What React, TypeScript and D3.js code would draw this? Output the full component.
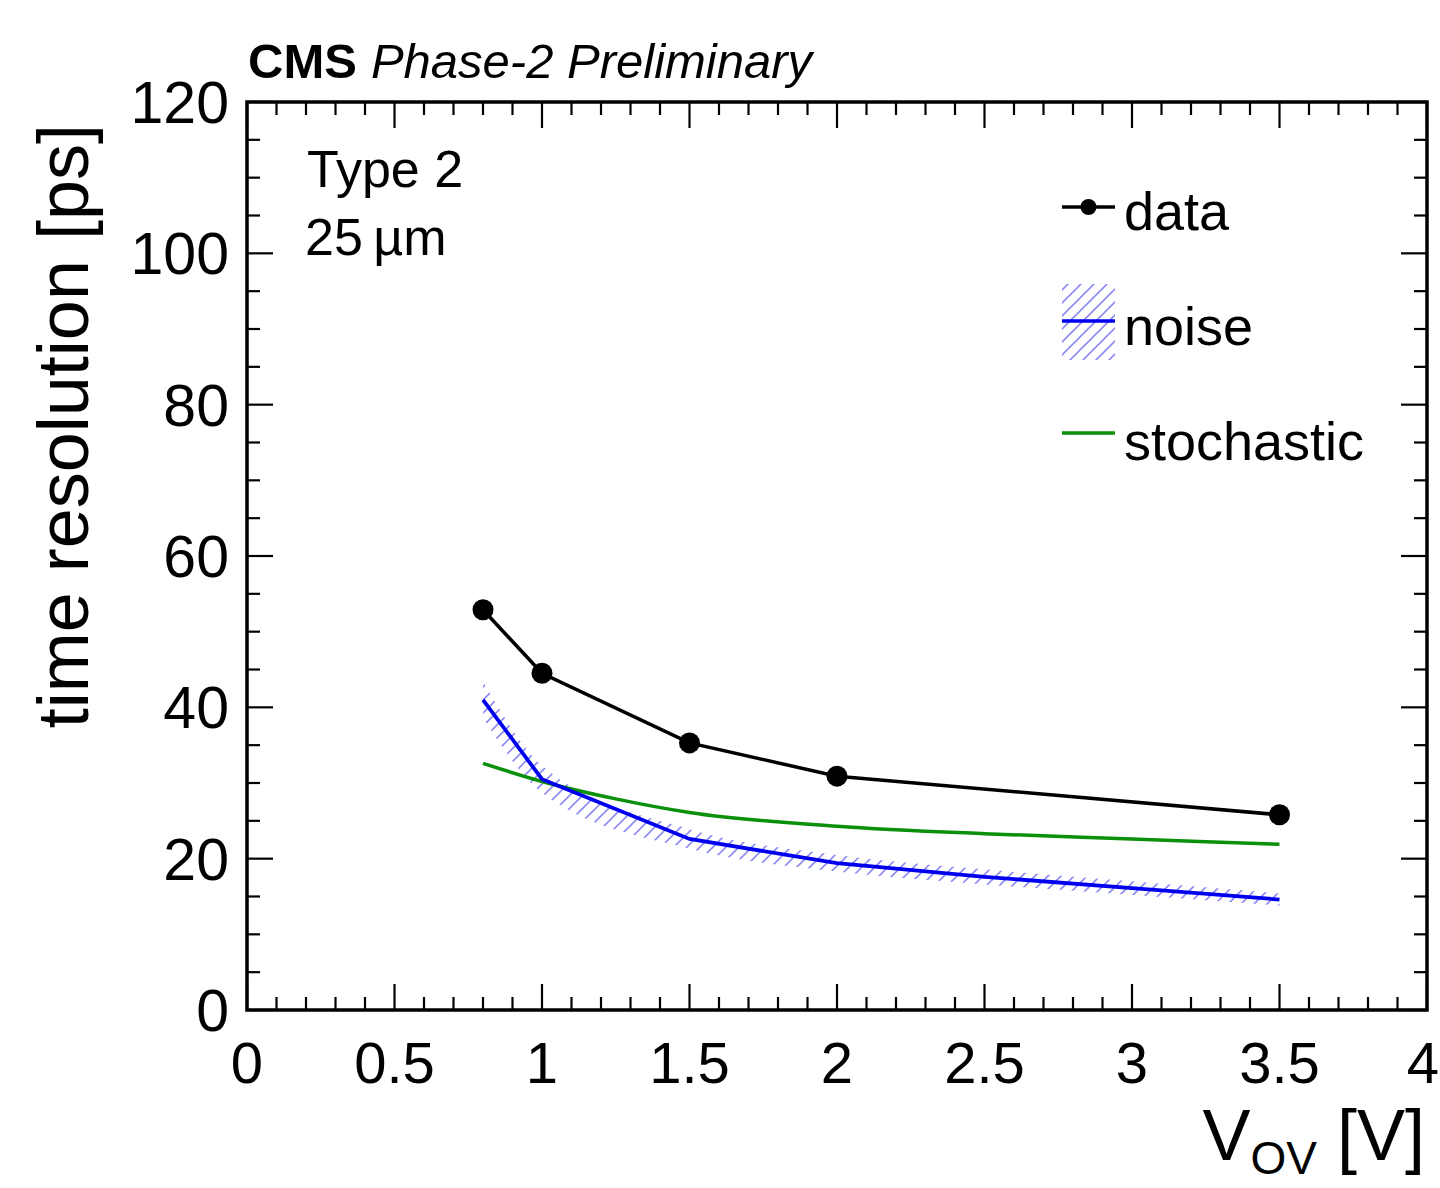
import React, { useEffect, useRef } from 'react';
import * as d3 from 'd3';

// overvoltage points (V) and measured resolution (ps)
const dataV = [0.8, 1.0, 1.5, 2.0, 3.5];
const dataRes = [52.9, 44.5, 35.3, 30.9, 25.8];

// noise term with its uncertainty band
const noiseV = [0.8, 1.0, 1.5, 2.0, 2.5, 3.0, 3.5];
const noiseRes = [41.0, 30.5, 22.6, 19.4, 17.6, 16.1, 14.6];
const noiseErr = [2.4, 1.8, 1.3, 1.1, 1.0, 0.9, 0.8];

// stochastic term
const stochV = [0.8, 1.0, 1.25, 1.5, 2.0, 2.5, 3.0, 3.5];
const stochRes = [32.6, 30.2, 27.9, 26.1, 24.3, 23.3, 22.6, 21.9];

const xTicks = [0, 0.5, 1, 1.5, 2, 2.5, 3, 3.5, 4];
const xTickLabels = ['0', '0.5', '1', '1.5', '2', '2.5', '3', '3.5', '4'];
const yTicks = [0, 20, 40, 60, 80, 100, 120];

const FONT = '"Liberation Sans", Arial, Helvetica, sans-serif';

const W = 1440;
const H = 1188;
const frame = { left: 247, right: 1427, top: 102, bottom: 1010 };

function App() {
  const ref = useRef<SVGSVGElement>(null);

  useEffect(() => {
    const svg = d3.select(ref.current);
    svg.selectAll('*').remove();

    const x = d3.scaleLinear().domain([0, 4]).range([frame.left, frame.right]);
    const y = d3.scaleLinear().domain([0, 120]).range([frame.bottom, frame.top]);

    // hatch pattern for the noise band
    const defs = svg.append('defs');
    const pat = defs.append('pattern')
      .attr('id', 'hatch')
      .attr('patternUnits', 'userSpaceOnUse')
      .attr('width', 13)
      .attr('height', 13);
    pat.append('path')
      .attr('d', 'M-3,3 L3,-3 M0,13 L13,0 M10,16 L16,10')
      .attr('stroke', '#5a5af0')
      .attr('stroke-width', 1.6)
      .attr('opacity', 0.7);

    const plot = svg.append('g');

    // noise band
    const band = noiseV.map((v, i) => ({ v, lo: noiseRes[i] - noiseErr[i], hi: noiseRes[i] + noiseErr[i] }));
    plot.append('path')
      .datum(band)
      .attr('fill', 'url(#hatch)')
      .attr('d', d3.area<any>()
        .x(d => x(d.v))
        .y0(d => y(d.lo))
        .y1(d => y(d.hi))
        .curve(d3.curveMonotoneX));

    const line = d3.line<[number, number]>()
      .x(d => x(d[0]))
      .y(d => y(d[1]));

    // stochastic
    plot.append('path')
      .datum(stochV.map((v, i) => [v, stochRes[i]] as [number, number]))
      .attr('fill', 'none')
      .attr('stroke', '#0b900b')
      .attr('stroke-width', 3.5)
      .attr('d', line.curve(d3.curveMonotoneX));

    // noise
    plot.append('path')
      .datum(noiseV.map((v, i) => [v, noiseRes[i]] as [number, number]))
      .attr('fill', 'none')
      .attr('stroke', '#0000ee')
      .attr('stroke-width', 3.8)
      .attr('d', line.curve(d3.curveLinear));

    // data
    const pts = dataV.map((v, i) => [v, dataRes[i]] as [number, number]);
    plot.append('path')
      .datum(pts)
      .attr('fill', 'none')
      .attr('stroke', '#000')
      .attr('stroke-width', 3.5)
      .attr('d', line.curve(d3.curveLinear));
    plot.selectAll('circle.pt').data(pts).enter().append('circle')
      .attr('class', 'pt')
      .attr('cx', d => x(d[0]))
      .attr('cy', d => y(d[1]))
      .attr('r', 10.5)
      .attr('fill', '#000');

    // frame
    svg.append('rect')
      .attr('x', frame.left)
      .attr('y', frame.top)
      .attr('width', frame.right - frame.left)
      .attr('height', frame.bottom - frame.top)
      .attr('fill', 'none')
      .attr('stroke', '#000')
      .attr('stroke-width', 3.5);

    // ticks (inward, mirrored on opposite sides)
    const tg = svg.append('g').attr('stroke', '#000').attr('stroke-width', 2.2);
    const xMinor = d3.range(0, 4.0001, 0.1).map(v => +v.toFixed(2));
    xMinor.forEach(v => {
      const major = Math.abs(v * 2 - Math.round(v * 2)) < 1e-6;
      const len = major ? 26 : 13;
      tg.append('line').attr('x1', x(v)).attr('x2', x(v)).attr('y1', frame.bottom).attr('y2', frame.bottom - len);
      tg.append('line').attr('x1', x(v)).attr('x2', x(v)).attr('y1', frame.top).attr('y2', frame.top + len);
    });
    const yMinor = d3.range(0, 120.001, 5);
    yMinor.forEach(v => {
      const major = v % 20 === 0;
      const len = major ? 26 : 13;
      tg.append('line').attr('x1', frame.left).attr('x2', frame.left + len).attr('y1', y(v)).attr('y2', y(v));
      tg.append('line').attr('x1', frame.right).attr('x2', frame.right - len).attr('y1', y(v)).attr('y2', y(v));
    });

    // tick labels
    const lab = svg.append('g').attr('font-family', FONT).attr('fill', '#000');
    lab.selectAll('text.xl').data(xTicks).enter().append('text')
      .attr('class', 'xl')
      .attr('x', d => (d === 4 ? W - 1 : x(d)))
      .attr('y', 1083)
      .attr('text-anchor', d => (d === 4 ? 'end' : 'middle'))
      .attr('font-size', 58)
      .text((d, i) => xTickLabels[i]);
    lab.selectAll('text.yl').data(yTicks).enter().append('text')
      .attr('class', 'yl')
      .attr('x', 229)
      .attr('y', d => y(d) + 21)
      .attr('text-anchor', 'end')
      .attr('font-size', 59)
      .text(d => String(d));

    // axis titles
    lab.append('text')
      .attr('transform', 'translate(88,124) rotate(-90)')
      .attr('text-anchor', 'end')
      .attr('font-size', 72)
      .text('time resolution [ps]');
    const xt = lab.append('text')
      .attr('x', 1425)
      .attr('y', 1160)
      .attr('text-anchor', 'end')
      .attr('font-size', 72);
    xt.append('tspan').text('V');
    xt.append('tspan').attr('font-size', 46).attr('dy', 14).text('OV');
    xt.append('tspan').attr('dy', -14).text(' [V]');

    // header
    const hd = lab.append('text').attr('x', 248).attr('y', 78).attr('font-size', 49);
    hd.append('tspan').attr('font-weight', 'bold').text('CMS');
    hd.append('tspan').attr('font-style', 'italic').attr('dx', 14).text('Phase-2 Preliminary');

    lab.append('text').attr('x', 307).attr('y', 187).attr('font-size', 52).text('Type 2');
    lab.append('text').attr('x', 305).attr('y', 255).attr('font-size', 52).text('25\u2009\u00b5m');

    // legend
    const lg = svg.append('g');
    const lx0 = 1062, lx1 = 1115;
    lg.append('line').attr('x1', lx0).attr('x2', lx1).attr('y1', 207).attr('y2', 207)
      .attr('stroke', '#000').attr('stroke-width', 3.5);
    lg.append('circle').attr('cx', (lx0 + lx1) / 2).attr('cy', 207).attr('r', 8).attr('fill', '#000');
    lg.append('rect').attr('x', lx0).attr('y', 284).attr('width', lx1 - lx0).attr('height', 76)
      .attr('fill', 'url(#hatch)');
    lg.append('line').attr('x1', lx0).attr('x2', lx1).attr('y1', 321).attr('y2', 321)
      .attr('stroke', '#0000ee').attr('stroke-width', 3.5);
    lg.append('line').attr('x1', lx0).attr('x2', lx1).attr('y1', 433).attr('y2', 433)
      .attr('stroke', '#0b900b').attr('stroke-width', 3.5);
    const legText = ['data', 'noise', 'stochastic'];
    const legY = [230, 345, 460];
    lg.selectAll('text').data(legText).enter().append('text')
      .attr('x', 1124)
      .attr('y', (d, i) => legY[i])
      .attr('font-family', FONT)
      .attr('font-size', 54)
      .text(d => d);
  }, []);

  return (
    <div style={{ position: 'absolute', left: 0, top: 0 }}>
      <svg ref={ref} width={W} height={H} style={{ display: 'block', background: '#fff' }} />
    </div>
  );
}

export default App;
